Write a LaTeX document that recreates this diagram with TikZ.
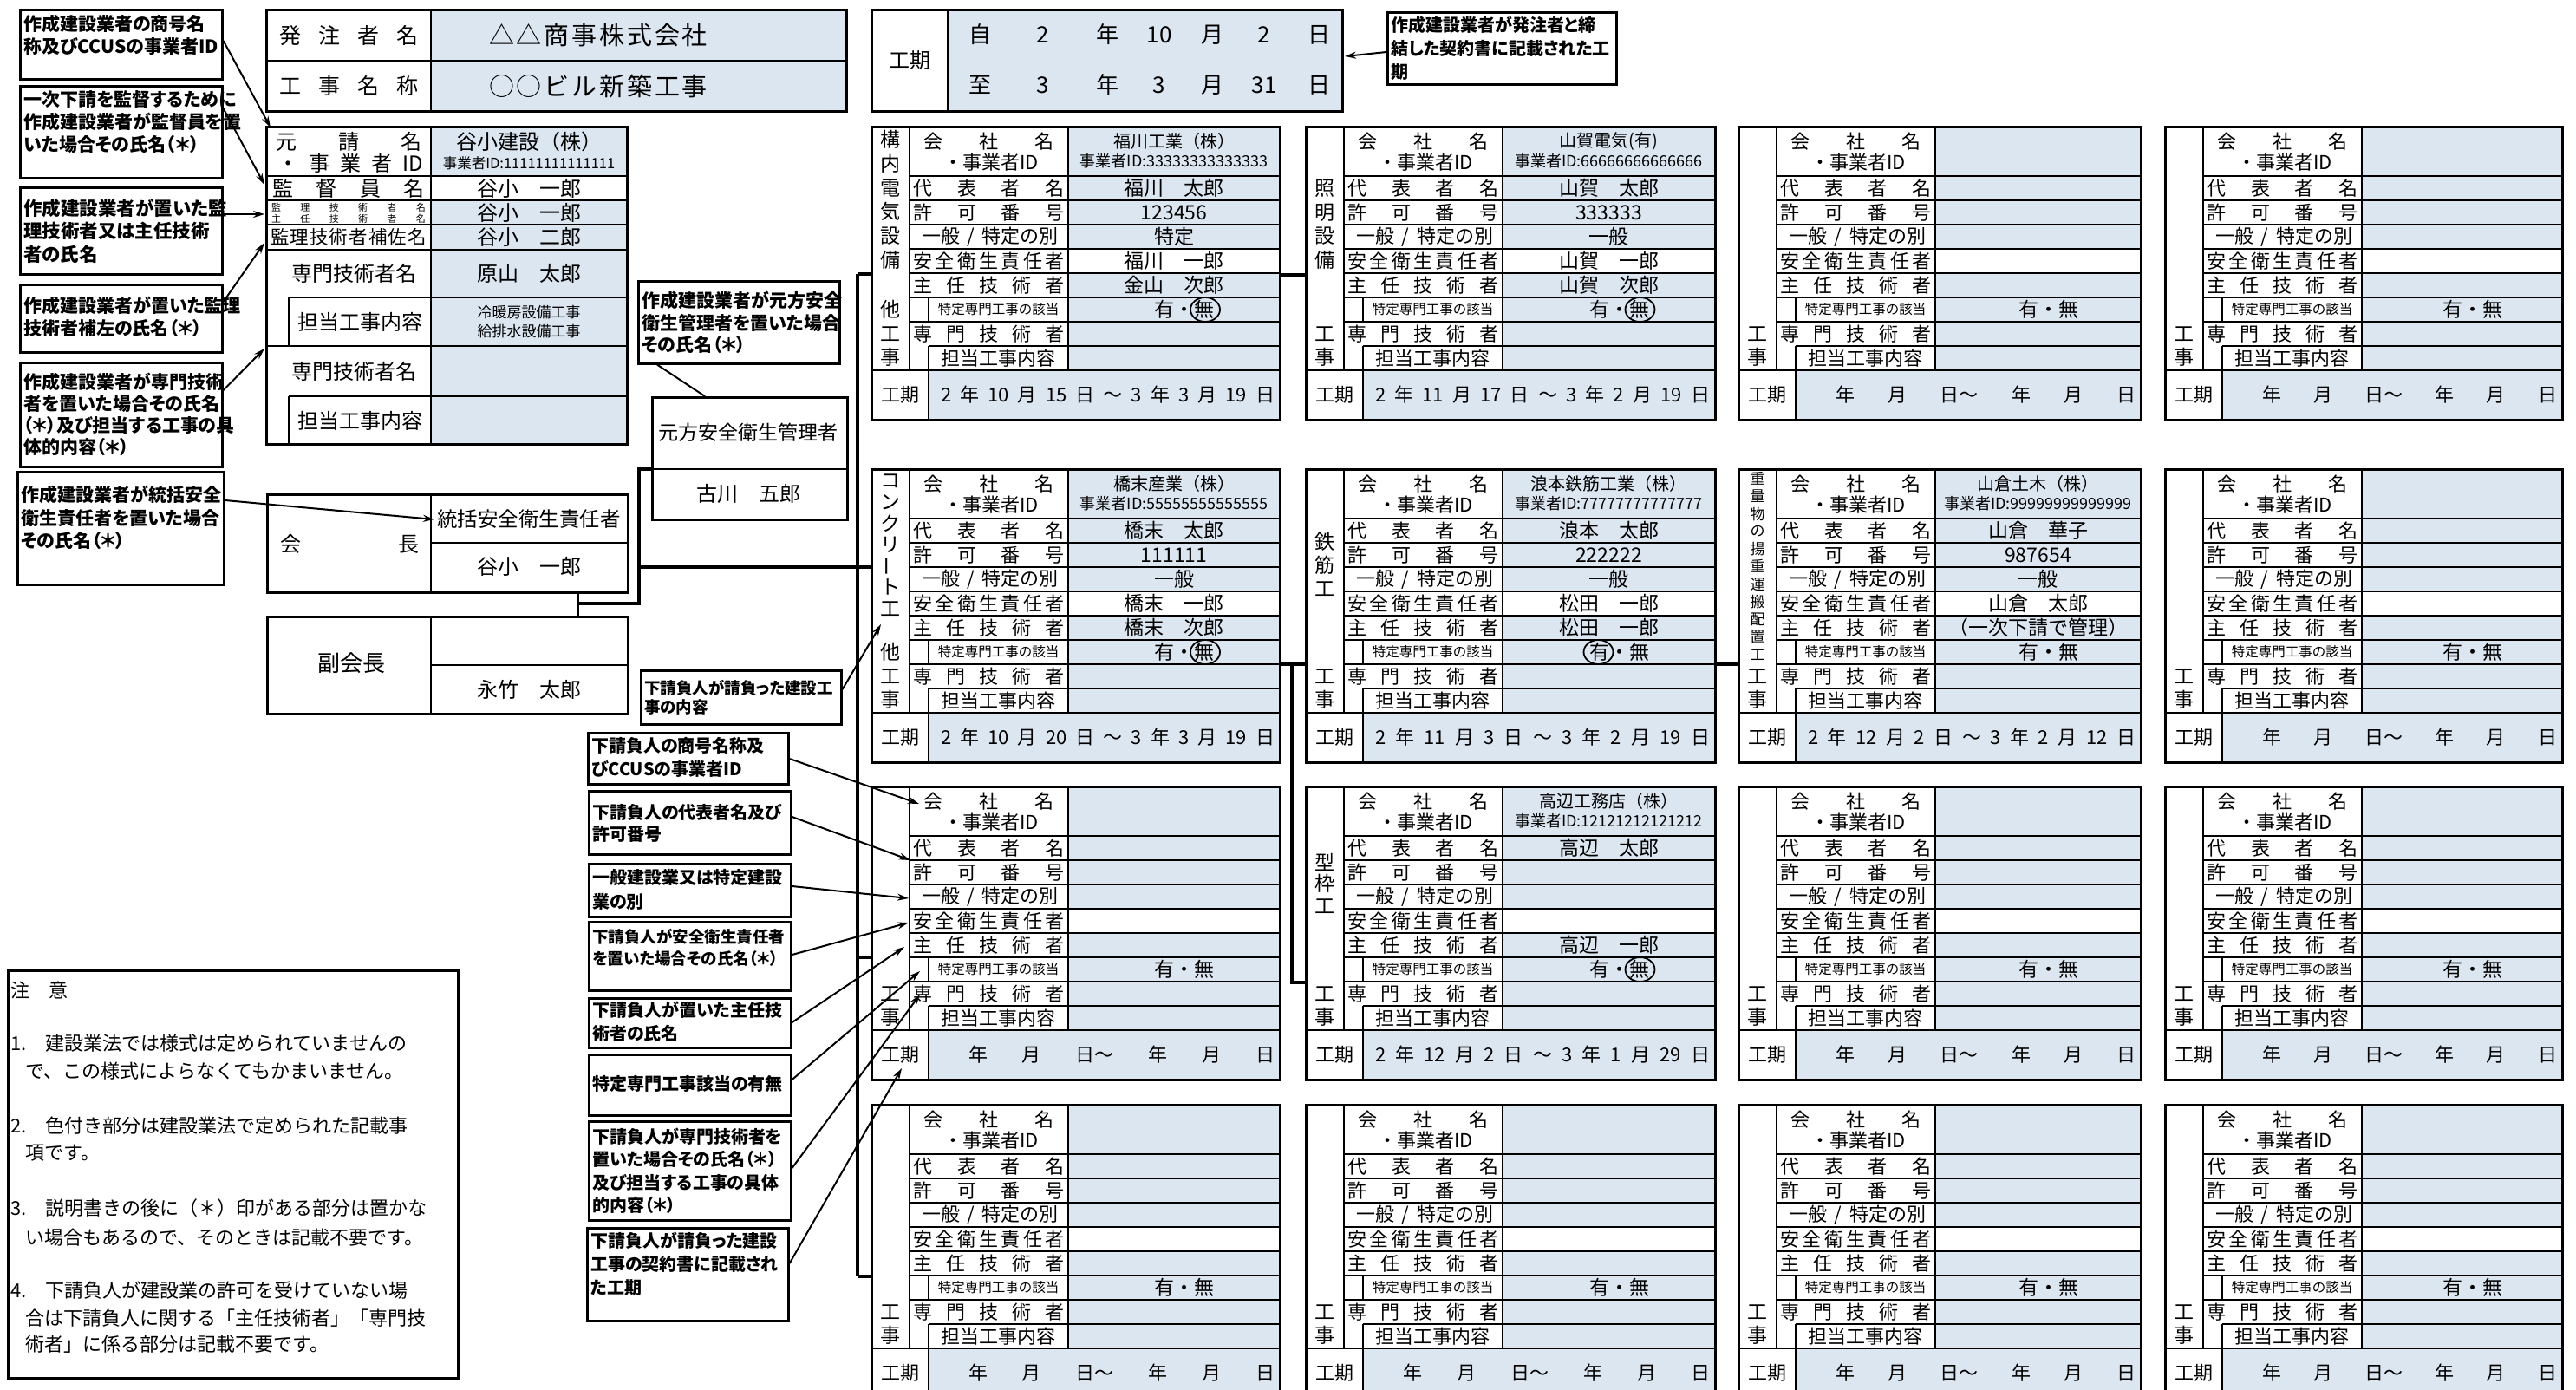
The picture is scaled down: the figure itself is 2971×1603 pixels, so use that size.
\documentclass[tikz,border=0pt]{standalone}
\usepackage{fontspec}
\setmainfont{Noto Sans CJK JP}
\newfontfamily\goth{Noto Sans CJK JP}[RawFeature=+palt]
\usetikzlibrary{arrows.meta}
\definecolor{valfill}{HTML}{DCE6F1}
\newcommand\fsz[1]{\fontsize{#1}{#1}\selectfont}
\newcommand\afont[2]{\goth\bfseries\fontsize{#1}{#2}\selectfont}
\tikzset{
 boxline/.style={line width=3pt},
 inl/.style={line width=2.2pt},
 lab/.style={inner sep=0pt,font=\fsz{22}},
 vtx/.style={inner sep=0pt,font=\fsz{23}},
 annbox/.style={draw,line width=2.6pt,inner sep=0pt},
 anntext/.style={inner sep=0pt,anchor=west,align=left},
 arr/.style={line width=2pt,-{Stealth[length=13pt,width=8pt]}},
 conn/.style={line width=3.5pt},
}
% ---------- sub-contractor card ----------
\newcommand\card[5]{%
 \begin{scope}[shift={(#2,#3)}]
  \def\cn{#1}\def\cw{#4}%
  \fill[valfill] (227,0) rectangle (#4,141);
  \fill[valfill] (227,169) rectangle (#4,281);
  \fill[valfill] (66,281) rectangle (#4,338);
  \foreach \yy in {57,85,113,141,169,197,225} {\draw[inl] (44,\yy) -- (#4,\yy);}
  \draw[inl] (66,253) -- (#4,253);
  \draw[inl] (0,281) -- (#4,281);
  \draw[inl] (44,0) -- (44,281);
  \draw[inl] (227,0) -- (227,281);
  \draw[inl] (66,197) -- (66,225);
  \draw[inl] (66,253) -- (66,338);
  \draw[boxline] (0,0) rectangle (#4,338);
  \node[lab] (#1-a) at (135,17) {\makebox[150pt]{会\hfill 社\hfill 名}};
  \node[lab] (#1-b) at (138,41) {・事業者ID};
  \node[lab] (#1-c) at (135.5,71) {\makebox[174pt]{代\hfill 表\hfill 者\hfill 名}};
  \node[lab] (#1-d) at (135.5,99) {\makebox[174pt]{許\hfill 可\hfill 番\hfill 号}};
  \node[lab] (#1-e) at (137,127) {\makebox[158pt]{一般\hfill /\hfill 特定の別}};
  \node[lab] (#1-f) at (135.5,155) {\makebox[174pt]{安\hfill 全\hfill 衛\hfill 生\hfill 責\hfill 任\hfill 者}};
  \node[lab] (#1-g) at (135.5,183) {\makebox[174pt]{主\hfill 任\hfill 技\hfill 術\hfill 者}};
  \node[lab,font=\fsz{15.5}] (#1-h) at (146.5,211) {特定専門工事の該当};
  \node[lab] (#1-i) at (135.5,239) {\makebox[174pt]{専\hfill 門\hfill 技\hfill 術\hfill 者}};
  \node[lab] (#1-j) at (146.5,267) {担当工事内容};
  \node[lab] (#1-k) at (33,309.5) {工期};
  #5
 \end{scope}}
\newcommand\vco[2]{%
 \node[vtx,font=\fsz{20}] (\cn-co) at ({(227+\cw)/2},17) {#1};
 \node[vtx,font=\fsz{18}] (\cn-id) at ({(227+\cw)/2},40) {#2};}
\newcommand\vr[3]{\node[vtx] (\cn-#1) at ({(227+\cw)/2},#2) {#3};}
\newcommand\vch[2]{\node[vtx] (\cn-v#1) at (22,#1) {#2};}
\newcommand\vcs[2]{\node[vtx,font=\fsz{17}] (\cn-v#1) at (22,#1) {#2};}
\newcommand\stdkoji{\vch{239}{工}\vch{266}{事}}
\newcommand\yumu[1]{%
 \node[vtx] (\cn-ym) at ({(227+\cw)/2+12},211) {有・無};
 \ifcase#1\or
  \draw[line width=1.8pt] ({(227+\cw)/2+36},211) ellipse [x radius=17pt,y radius=14pt];
 \or
  \draw[line width=1.8pt] ({(227+\cw)/2-12},211) ellipse [x radius=17pt,y radius=14pt];
 \fi}
\newcommand\kiki[2]{\node[vtx,font=\fsz{22}] (\cn-kk) at ({(#1+\cw-6)/2},309.5) {\makebox[\dimexpr\cw pt-6pt-#1pt\relax]{#2}};}
\newcommand\blankcard{\stdkoji\yumu{0}\kiki{112}{年\hfill 月\hfill 日～\hfill 年\hfill 月\hfill 日}}
% ---------- annotation box ----------
\newcommand\ann[8]{%
 \node[annbox,anchor=north west,minimum width={#4-#2},minimum height={#5-#3}] (#1) at (#2,#3) {};
 \node[anntext,font=#6] (#1t) at (#2+5,#7) {#8};}
\begin{document}
\begin{tikzpicture}[x=1pt,y=-1pt]
\useasboundingbox (0,0) rectangle (2971,1603);
\fill[white] (0,0) rectangle (2971,1603);
\clip (0,0) rectangle (2971,1603);

% ===== 発注者 / 工事名称 =====
\fill[valfill] (497,12) rectangle (976,128);
\draw[inl] (497,12) -- (497,128);
\draw[inl] (307,70) -- (976,70);
\draw[boxline] (307,12) rectangle (976,128);
\node[lab,font=\fsz{25}] (hl1) at (402,41) {\makebox[160pt]{発\hfill 注\hfill 者\hfill 名}};
\node[lab,font=\fsz{25}] (hl2) at (402,99) {\makebox[160pt]{工\hfill 事\hfill 名\hfill 称}};
\node[lab,font=\fsz{29}] (hv1) at (690,41) {\makebox[252pt]{△\hfill △\hfill 商\hfill 事\hfill 株\hfill 式\hfill 会\hfill 社}};
\node[lab,font=\fsz{29}] (hv2) at (690,99) {\makebox[252pt]{○\hfill ○\hfill ビ\hfill ル\hfill 新\hfill 築\hfill 工\hfill 事}};

% ===== 元請 table =====
\fill[valfill] (497,146) rectangle (723,203);
\fill[valfill] (497,231) rectangle (723,512);
\draw[inl] (497,146) -- (497,512);
\foreach \yy in {203,231,259,288,399} {\draw[inl] (307,\yy) -- (723,\yy);}
\draw[inl] (333,343) -- (723,343);
\draw[inl] (333,457) -- (723,457);
\draw[inl] (333,343) -- (333,399);
\draw[inl] (333,457) -- (333,512);
\draw[boxline] (307,146) rectangle (723,512);
\node[lab,font=\fsz{24}] (g1) at (402,163) {\makebox[168pt]{元\hfill 請\hfill 名}};
\node[lab,font=\fsz{24}] (g2) at (404,188) {\makebox[168pt]{・\hfill 事\hfill 業\hfill 者\hfill ID}};
\node[lab,font=\fsz{24}] (g3) at (610,163) {谷小建設（株）};
\node[lab,font=\fsz{16.5}] (g4) at (610,188) {事業者ID:11111111111111};
\node[lab,font=\fsz{24}] (g5) at (402,217) {\makebox[176pt]{監\hfill 督\hfill 員\hfill 名}};
\node[lab,font=\fsz{24}] (g6) at (610,217) {谷小　一郎};
\node[lab,font=\fsz{11}] (g7) at (402,239) {\makebox[178pt]{監\hfill 理\hfill 技\hfill 術\hfill 者\hfill 名}};
\node[lab,font=\fsz{11}] (g8) at (402,252) {\makebox[178pt]{主\hfill 任\hfill 技\hfill 術\hfill 者\hfill 名}};
\node[lab,font=\fsz{24}] (g9) at (610,245) {谷小　一郎};
\node[lab,font=\fsz{21.5}] (g10) at (402,273.5) {\makebox[180pt]{監\hfill 理\hfill 技\hfill 術\hfill 者\hfill 補\hfill 佐\hfill 名}};
\node[lab,font=\fsz{24}] (g11) at (610,273.5) {谷小　二郎};
\node[lab,font=\fsz{24}] (g12) at (408,315) {専門技術者名};
\node[lab,font=\fsz{24}] (g13) at (610,315) {原山　太郎};
\node[lab,font=\fsz{24}] (g14) at (415,371) {担当工事内容};
\node[lab,font=\fsz{17}] (g15) at (610,360) {冷暖房設備工事};
\node[lab,font=\fsz{17}] (g16) at (610,382) {給排水設備工事};
\node[lab,font=\fsz{24}] (g17) at (408,428) {専門技術者名};
\node[lab,font=\fsz{24}] (g18) at (415,485) {担当工事内容};

% ===== 会長 / 副会長 / 元方 =====
\node[annbox,line width=3pt,anchor=north west,minimum width=416,minimum height=113] (kaicho) at (307,569) {};
\draw[inl] (497,569) -- (497,682);
\draw[inl] (497,626) -- (723,626);
\node[lab,font=\fsz{24}] (kc1) at (403,627) {\makebox[160pt]{会\hfill 長}};
\node[lab,font=\fsz{23.5}] (kc2) at (610,599) {統括安全衛生責任者};
\node[lab,font=\fsz{24}] (kc3) at (610,653) {谷小　一郎};
\node[annbox,line width=3pt,anchor=north west,minimum width=416,minimum height=112] (fuku) at (307,710) {};
\draw[inl] (497,710) -- (497,822);
\draw[inl] (497,767) -- (723,767);
\node[lab,font=\fsz{26}] (fk1) at (405,765) {副会長};
\node[lab,font=\fsz{24}] (fk2) at (610,795) {永竹　太郎};
\node[annbox,line width=3pt,anchor=north west,minimum width=225,minimum height=141] (motokata) at (751,457) {};
\draw[inl] (751,541) -- (976,541);
\node[lab,font=\fsz{23}] (mk1) at (863,499) {元方安全衛生管理者};
\node[lab,font=\fsz{24}] (mk2) at (863,569) {古川　五郎};

% ===== 工期 (top) =====
\fill[valfill] (1093,12) rectangle (1548,128);
\draw[inl] (1093,12) -- (1093,128);
\draw[boxline] (1005,12) rectangle (1548,128);
\node[lab,font=\fsz{24}] (kt0) at (1049,70) {工期};
\foreach \xx/\tt [count=\i] in {1130/自,1203/2,1277/年,1337/10,1398/月,1458/2,1521/日} {\node[lab,font=\fsz{26}] (ka\i) at (\xx,40) {\tt};}
\foreach \xx/\tt [count=\i] in {1130/至,1203/3,1277/年,1337/3,1398/月,1458/31,1521/日} {\node[lab,font=\fsz{26}] (kb\i) at (\xx,98) {\tt};}

% ===== cards row 1 =====
\card{c1}{1005}{146}{471}{%
 \vch{15}{構}\vch{43}{内}\vch{71}{電}\vch{98}{気}\vch{126}{設}\vch{154}{備}\vch{211}{他}\stdkoji
 \vco{福川工業（株）}{事業者ID:33333333333333}
 \vr{r2}{71}{福川　太郎}\vr{r3}{99}{123456}\vr{r4}{127}{特定}\vr{r5}{155}{福川　一郎}\vr{r6}{183}{金山　次郎}
 \yumu{1}
 \kiki{80}{2\hfill 年\hfill 10\hfill 月\hfill 15\hfill 日\hfill ～\hfill 3\hfill 年\hfill 3\hfill 月\hfill 19\hfill 日}}
\card{c2}{1506}{146}{472}{%
 \vch{71}{照}\vch{99}{明}\vch{126}{設}\vch{154}{備}\stdkoji
 \vco{山賀電気(有)}{事業者ID:66666666666666}
 \vr{r2}{71}{山賀　太郎}\vr{r3}{99}{333333}\vr{r4}{127}{一般}\vr{r5}{155}{山賀　一郎}\vr{r6}{183}{山賀　次郎}
 \yumu{1}
 \kiki{80}{2\hfill 年\hfill 11\hfill 月\hfill 17\hfill 日\hfill ～\hfill 3\hfill 年\hfill 2\hfill 月\hfill 19\hfill 日}}
\card{c3}{2005}{146}{464}{\blankcard}
\card{c4}{2497}{146}{458}{\blankcard}
% ===== row 2 =====
\card{c5}{1005}{541}{471}{%
 \vch{14}{コ}\vch{38}{ン}\vch{63}{ク}\vch{87}{リ}\node[vtx,rotate=90] (c5-vb) at (22,112) {ー};\vch{136}{ト}\vch{161}{工}\vch{211}{他}\stdkoji
 \vco{橋末産業（株）}{事業者ID:55555555555555}
 \vr{r2}{71}{橋末　太郎}\vr{r3}{99}{111111}\vr{r4}{127}{一般}\vr{r5}{155}{橋末　一郎}\vr{r6}{183}{橋末　次郎}
 \yumu{1}
 \kiki{80}{2\hfill 年\hfill 10\hfill 月\hfill 20\hfill 日\hfill ～\hfill 3\hfill 年\hfill 3\hfill 月\hfill 19\hfill 日}}
\card{c6}{1506}{541}{472}{%
 \vch{84}{鉄}\vch{111}{筋}\vch{138}{工}\stdkoji
 \vco{浪本鉄筋工業（株）}{事業者ID:77777777777777}
 \vr{r2}{71}{浪本　太郎}\vr{r3}{99}{222222}\vr{r4}{127}{一般}\vr{r5}{155}{松田　一郎}\vr{r6}{183}{松田　一郎}
 \yumu{2}
 \kiki{80}{2\hfill 年\hfill 11\hfill 月\hfill 3\hfill 日\hfill ～\hfill 3\hfill 年\hfill 2\hfill 月\hfill 19\hfill 日}}
\card{c7}{2005}{541}{464}{%
 \vcs{11}{重}\vcs{31}{量}\vcs{52}{物}\vcs{72}{の}\vcs{92}{揚}\vcs{112}{重}\vcs{133}{運}\vcs{153}{搬}\vcs{173}{配}\vcs{193}{置}\vcs{214}{工}\stdkoji
 \vco{山倉土木（株）}{事業者ID:99999999999999}
 \vr{r2}{71}{山倉　華子}\vr{r3}{99}{987654}\vr{r4}{127}{一般}\vr{r5}{155}{山倉　太郎}\vr{r6}{183}{（一次下請で管理）}
 \yumu{0}
 \kiki{80}{2\hfill 年\hfill 12\hfill 月\hfill 2\hfill 日\hfill ～\hfill 3\hfill 年\hfill 2\hfill 月\hfill 12\hfill 日}}
\card{c8}{2497}{541}{458}{\blankcard}
% ===== row 3 =====
\card{c9}{1005}{907}{471}{\blankcard}
\card{c10}{1506}{907}{472}{%
 \vch{87}{型}\vch{112}{枠}\vch{138}{工}\stdkoji
 \vco{高辺工務店（株）}{事業者ID:12121212121212}
 \vr{r2}{71}{高辺　太郎}\vr{r6}{183}{高辺　一郎}
 \yumu{1}
 \kiki{80}{2\hfill 年\hfill 12\hfill 月\hfill 2\hfill 日\hfill ～\hfill 3\hfill 年\hfill 1\hfill 月\hfill 29\hfill 日}}
\card{c11}{2005}{907}{464}{\blankcard}
\card{c12}{2497}{907}{458}{\blankcard}
% ===== row 4 =====
\card{c13}{1005}{1274}{471}{\blankcard}
\card{c14}{1506}{1274}{472}{\blankcard}
\card{c15}{2005}{1274}{464}{\blankcard}
\card{c16}{2497}{1274}{458}{\blankcard}

% ===== organisation connectors =====
\coordinate (j1) at (665,696);
\coordinate (j2) at (737,541);
\coordinate (j3) at (737,654);
\coordinate (tr0) at (989,316);
\coordinate (tr1) at (989,1472);
\coordinate (c1w) at (1005,316);
\coordinate (c5w) at (1005,654);
\coordinate (c9w) at (1005,1104);
\coordinate (c13w) at (1005,1472);
\coordinate (c1e) at (1476,317);
\coordinate (c2w) at (1506,317);
\coordinate (c5e) at (1476,766);
\coordinate (c6w) at (1506,766);
\coordinate (br) at (1490,766);
\coordinate (c10w) at (1506,1133);
\coordinate (c6e) at (1978,766);
\coordinate (c7w) at (2005,766);
\draw[conn] ([xshift=150pt]kaicho.south) -- ([xshift=150pt]fuku.north);
\draw[conn] (j1) -| (j2) -- (motokata.west |- j2);
\draw[conn] (j3) -- (c5w);
\draw[conn] (tr0) -- (tr1);
\draw[conn] (tr0) -- (c1w);
\draw[conn] (tr1) -- (c13w);
\draw[conn] (tr0 |- c9w) -- (c9w);
\draw[conn] (c1e) -- (c2w);
\draw[conn] (c5e) -- (c6w);
\draw[conn] (br) |- (c10w);
\draw[conn] (c6e) -- (c7w);

% ===== annotation boxes (left) =====
\ann{A1}{22}{10}{255}{90}{\afont{21}{26}}{40}{作成建設業者の商号名\\称及びCCUSの事業者ID}
\ann{A2}{22}{98}{255}{204}{\afont{21}{26}}{141}{一次下請を監督するために\\作成建設業者が監督員を置\\いた場合その氏名（＊）}
\ann{A3}{22}{215}{255}{315}{\afont{21.5}{26.5}}{266.5}{作成建設業者が置いた監\\理技術者又は主任技術\\者の氏名}
\ann{A4}{22}{327}{255}{405}{\afont{21}{26}}{365}{作成建設業者が置いた監理\\技術者補左の氏名（＊）}
\ann{A5}{22}{417}{255}{537}{\afont{21}{25}}{477.5}{作成建設業者が専門技術\\者を置いた場合その氏名\\（＊）及び担当する工事の具\\体的内容（＊）}
\ann{A6}{19}{543}{257}{673}{\afont{21}{26.5}}{597}{作成建設業者が統括安全\\衛生責任者を置いた場合\\その氏名（＊）}
\ann{A7}{735}{323}{967}{418}{\afont{21}{25.5}}{372}{作成建設業者が元方安全\\衛生管理者を置いた場合\\その氏名（＊）}
\ann{D}{1599}{13}{1863}{96}{\afont{20}{27}}{56}{作成建設業者が発注者と締\\結した契約書に記載された工\\期}
\ann{C}{738}{772}{969}{834}{\afont{18.5}{22}}{804}{下請負人が請負った建設工\\事の内容}
\ann{B1}{677}{844}{908}{903}{\afont{20}{27}}{873.5}{下請負人の商号名称及\\びCCUSの事業者ID}
\ann{B2}{678}{911}{911}{984}{\afont{20}{25}}{949.5}{下請負人の代表者名及び\\許可番号}
\ann{B3}{678}{995}{911}{1056}{\afont{20}{28}}{1026}{一般建設業又は特定建設\\業の別}
\ann{B4}{678}{1062}{911}{1141}{\afont{18.5}{25}}{1092.5}{下請負人が安全衛生責任者\\を置いた場合その氏名（＊）}
\ann{B5}{678}{1150}{911}{1207}{\afont{20}{27}}{1178.5}{下請負人が置いた主任技\\術者の氏名}
\ann{B6}{678}{1215}{911}{1285}{\afont{20}{27}}{1250}{特定専門工事該当の有無}
\ann{B7}{678}{1292}{911}{1406}{\afont{20}{26.5}}{1350}{下請負人が専門技術者を\\置いた場合その氏名（＊）\\及び担当する工事の具体\\的内容（＊）}
\ann{B8}{676}{1415}{908}{1522}{\afont{20}{27}}{1457.5}{下請負人が請負った建設\\工事の契約書に記載され\\た工期}

% ===== arrows =====
\coordinate (tA1) at (312,147);
\coordinate (tA2) at (305,213);
\coordinate (tA3) at (305,247);
\coordinate (tA4) at (305,280);
\coordinate (tA5) at (305,402);
\coordinate (tA6) at (501,599);
\coordinate (tD) at (1551,65);
\coordinate (tC) at (1016,720);
\coordinate (tB1) at (1060,927);
\coordinate (tB2) at (1050,992);
\coordinate (tB3) at (1048,1036);
\coordinate (tB4) at (1048,1064);
\coordinate (tB5) at (1043,1092);
\coordinate (tB6) at (1061,1120);
\coordinate (tB7) at (1061,1147);
\coordinate (tB8) at (1040,1232);
\draw[arr] ([yshift=-37pt]A1.north east) -- (tA1);
\draw[arr] ([yshift=-27pt]A2.north east) -- (tA2);
\draw[arr] ([yshift=-32pt]A3.north east) -- (tA3);
\draw[arr] ([yshift=-21pt]A4.north east) -- (tA4);
\draw[arr] ([yshift=-33pt]A5.north east) -- (tA5);
\draw[arr] ([yshift=-34pt]A6.north east) -- (tA6);
\draw[arr] ([yshift=-47pt]D.north west) -- (tD);
\draw[arr] ([yshift=-23pt]C.north east) -- (tC);
\draw[line width=2pt] ([xshift=23pt]A7.south west) -- ([xshift=62pt]motokata.north west);
\draw[arr] ([yshift=-31pt]B1.north east) -- (tB1);
\draw[arr] ([yshift=-31pt]B2.north east) -- (tB2);
\draw[arr] ([yshift=-27pt]B3.north east) -- (tB3);
\draw[arr] ([yshift=-39pt]B4.north east) -- (tB4);
\draw[arr] ([yshift=-29pt]B5.north east) -- (tB5);
\draw[arr] ([yshift=-30pt]B6.north east) -- (tB6);
\draw[arr] ([yshift=-55pt]B7.north east) -- (tB7);
\draw[arr] ([yshift=-42pt]B8.north east) -- (tB8);

% ===== notes =====
\node[annbox,anchor=north west,minimum width=519,minimum height=470] (notes) at (8,1118) {};
\foreach \yy/\xx/\tt [count=\i] in {
 1142/12/注　意,
 1203/12/1.　建設業法では様式は定められていませんの,
 1235/29/で、この様式によらなくてもかまいません。,
 1298/12/2.　色付き部分は建設業法で定められた記載事,
 1330/29/項です。,
 1393/12/3.　説明書きの後に（＊）印がある部分は置かな,
 1427/29/い場合もあるので、そのときは記載不要です。,
 1488/12/4.　下請負人が建設業の許可を受けていない場,
 1520/29/合は下請負人に関する「主任技術者」「専門技,
 1550/29/術者」に係る部分は記載不要です。}
 {\node[inner sep=0pt,anchor=west,font=\fsz{22}] (nt\i) at (\xx,\yy) {\tt};}
\end{tikzpicture}
\end{document}
